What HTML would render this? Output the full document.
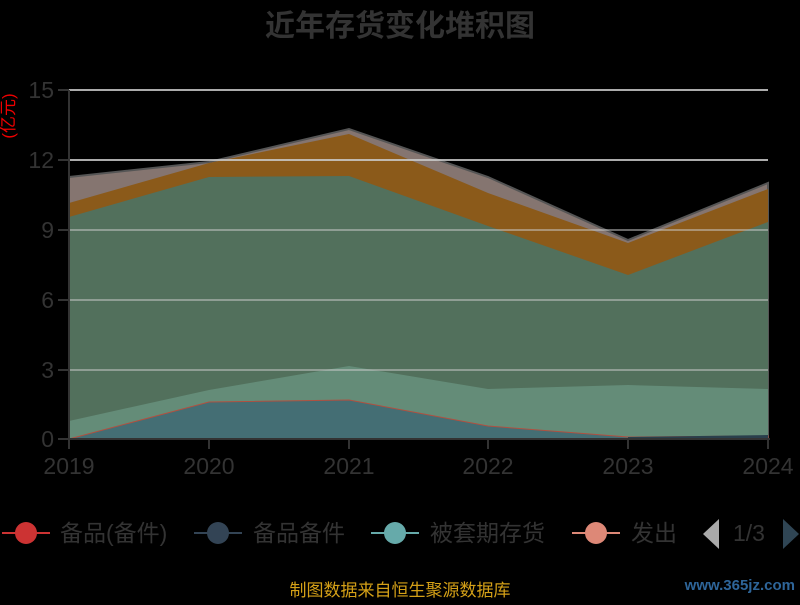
<!DOCTYPE html>
<html><head><meta charset="utf-8"><style>
body{margin:0;background:#000;width:800px;height:600px;overflow:hidden;font-family:"Liberation Sans","Noto Sans CJK SC",sans-serif}
</style></head><body>
<svg width="800" height="600" xmlns="http://www.w3.org/2000/svg" font-family="Liberation Sans, Noto Sans CJK SC, sans-serif">
<text x="400" y="36" text-anchor="middle" font-size="30" font-weight="bold" fill="#333">近年存货变化堆积图</text>
<text transform="translate(14,116) rotate(-90)" text-anchor="middle" font-size="17" fill="#e00">(亿元)</text>
<polygon fill="#857570" stroke="#555" stroke-width="2" points="69,177 209,162 349,129 488,177 628,240 768,183 768,439 69,439"/>
<polygon fill="#8b5a1a" points="69,203 209,163 349,134 488,193 628,243 768,189 768,439 69,439"/>
<polygon fill="#52705c" points="69,217 209,177 349,176 488,226 628,275 768,222 768,439 69,439"/>
<polygon fill="#648c78" points="69,421 209,390 349,366 488,389 628,385 768,389 768,439 69,439"/>
<polygon fill="#446e74" stroke="#b05040" stroke-width="1" points="69,439 209,402 349,400 488,426 628,437 768,436 768,439 69,439"/>
<polygon fill="#2a3f4c" points="628,437 768,435 768,439 628,439"/>
<g stroke="#ccc" stroke-width="2" opacity="0.85">
<line x1="69" y1="90" x2="768" y2="90"/><line x1="69" y1="160" x2="768" y2="160"/>
<line x1="69" y1="230" x2="768" y2="230" opacity="0.6"/><line x1="69" y1="300" x2="768" y2="300" opacity="0.6"/><line x1="69" y1="370" x2="768" y2="370" opacity="0.6"/>
</g>
<g stroke="#333" stroke-width="2">
<line x1="69" y1="90" x2="69" y2="440"/><line x1="58" y1="439" x2="770" y2="439"/>
<line x1="58" y1="90" x2="69" y2="90"/><line x1="58" y1="160" x2="69" y2="160"/><line x1="58" y1="230" x2="69" y2="230"/><line x1="58" y1="300" x2="69" y2="300"/><line x1="58" y1="370" x2="69" y2="370"/>
<line x1="69" y1="439" x2="69" y2="449"/><line x1="209" y1="439" x2="209" y2="449"/><line x1="349" y1="439" x2="349" y2="449"/><line x1="488" y1="439" x2="488" y2="449"/><line x1="628" y1="439" x2="628" y2="449"/><line x1="768" y1="439" x2="768" y2="449"/>
</g>
<g font-size="23" fill="#333" text-anchor="end">
<text x="54" y="98">15</text><text x="54" y="168">12</text><text x="54" y="238">9</text><text x="54" y="308">6</text><text x="54" y="378">3</text><text x="54" y="447">0</text>
</g>
<g font-size="23" fill="#333" text-anchor="middle">
<text x="69" y="474">2019</text><text x="209" y="474">2020</text><text x="349" y="474">2021</text><text x="488" y="474">2022</text><text x="628" y="474">2023</text><text x="768" y="474">2024</text>
</g>
<g font-size="23" fill="#333">
<line x1="2" y1="533" x2="50" y2="533" stroke="#c33" stroke-width="2"/><circle cx="26" cy="533" r="11" fill="#c33"/>
<text x="60" y="541">备品(备件)</text>
<line x1="194" y1="533" x2="242" y2="533" stroke="#345" stroke-width="2"/><circle cx="218" cy="533" r="11" fill="#345"/>
<text x="253" y="541">备品备件</text>
<line x1="371" y1="533" x2="419" y2="533" stroke="#6aa" stroke-width="2"/><circle cx="395" cy="533" r="11" fill="#6aa"/>
<text x="430" y="541">被套期存货</text>
<line x1="572" y1="533" x2="620" y2="533" stroke="#d87" stroke-width="2"/><circle cx="596" cy="533" r="11" fill="#d87"/>
<text x="631" y="541">发出</text>
<polygon points="719,519 719,549 703,534" fill="#aaa"/>
<text x="733" y="541">1/3</text>
<polygon points="783,519 783,549 799,534" fill="#2f4554"/>
</g>
<text x="400" y="596" text-anchor="middle" font-size="17" fill="#d4a017">制图数据来自恒生聚源数据库</text>
<text x="795" y="590" text-anchor="end" font-size="15" font-weight="bold" fill="#3a7fc0" opacity="0.8">www.365jz.com</text>
</svg>
</body></html>
